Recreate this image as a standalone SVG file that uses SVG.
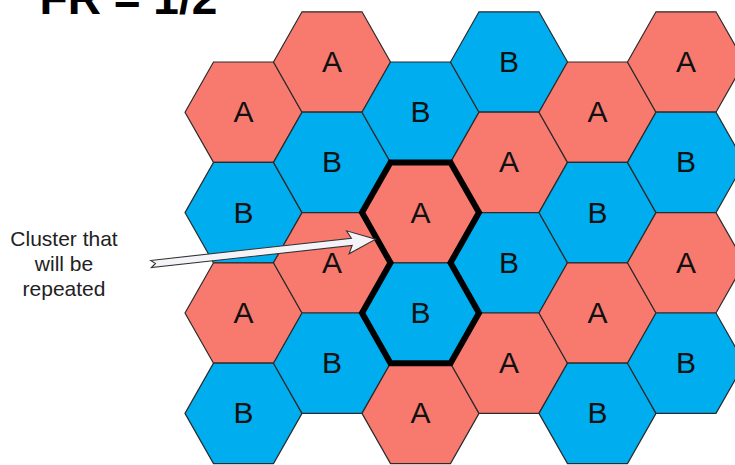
<svg xmlns="http://www.w3.org/2000/svg" xmlns:xlink="http://www.w3.org/1999/xlink" width="735" height="465" viewBox="0 0 735 465">
<style>
.a{fill:#f87a6f;stroke:#2b2b2b;stroke-width:1.2}
.b{fill:#00adee;stroke:#2b2b2b;stroke-width:1.2}
.lbl{font-family:"Liberation Sans",Arial,sans-serif;font-size:30px;fill:#111;text-anchor:middle}
.note{font-family:"Liberation Sans",Arial,sans-serif;font-size:21px;fill:#222;text-anchor:middle}
.title{font-family:"Liberation Sans",Arial,sans-serif;font-size:46px;font-weight:bold;fill:#000}
</style>
<defs>
<polygon id="hex" points="-58.5,0 -30,-50.2 30,-50.2 58.5,0 30,50.2 -30,50.2"/>
</defs>
<rect width="735" height="465" fill="#fff"/>
<text class="title" x="39.6" y="14">FR = 1/2</text>
<g id="cells">
<g id="c1r1"><use href="#hex" class="a" x="243.5" y="112.2"/><text class="lbl" x="243.5" y="122.2">A</text></g>
<g id="c1r2"><use href="#hex" class="b" x="243.5" y="212.6"/><text class="lbl" x="243.5" y="222.6">B</text></g>
<g id="c1r3"><use href="#hex" class="a" x="243.5" y="313"/><text class="lbl" x="243.5" y="323">A</text></g>
<g id="c1r4"><use href="#hex" class="b" x="243.5" y="413.4"/><text class="lbl" x="243.5" y="423.4">B</text></g>
<g id="c2r1"><use href="#hex" class="a" x="332" y="62"/><text class="lbl" x="332" y="72">A</text></g>
<g id="c2r2"><use href="#hex" class="b" x="332" y="162.4"/><text class="lbl" x="332" y="172.4">B</text></g>
<g id="c2r3"><use href="#hex" class="a" x="332" y="262.8"/><text class="lbl" x="332" y="272.8">A</text></g>
<g id="c2r4"><use href="#hex" class="b" x="332" y="363.2"/><text class="lbl" x="332" y="373.2">B</text></g>
<g id="c3r1"><use href="#hex" class="b" x="420.5" y="112.2"/><text class="lbl" x="420.5" y="122.2">B</text></g>
<g id="c3r2"><use href="#hex" class="a" x="420.5" y="212.6"/><text class="lbl" x="420.5" y="222.6">A</text></g>
<g id="c3r3"><use href="#hex" class="b" x="420.5" y="313"/><text class="lbl" x="420.5" y="323">B</text></g>
<g id="c3r4"><use href="#hex" class="a" x="420.5" y="413.4"/><text class="lbl" x="420.5" y="423.4">A</text></g>
<g id="c4r1"><use href="#hex" class="b" x="509" y="62"/><text class="lbl" x="509" y="72">B</text></g>
<g id="c4r2"><use href="#hex" class="a" x="509" y="162.4"/><text class="lbl" x="509" y="172.4">A</text></g>
<g id="c4r3"><use href="#hex" class="b" x="509" y="262.8"/><text class="lbl" x="509" y="272.8">B</text></g>
<g id="c4r4"><use href="#hex" class="a" x="509" y="363.2"/><text class="lbl" x="509" y="373.2">A</text></g>
<g id="c5r1"><use href="#hex" class="a" x="597.5" y="112.2"/><text class="lbl" x="597.5" y="122.2">A</text></g>
<g id="c5r2"><use href="#hex" class="b" x="597.5" y="212.6"/><text class="lbl" x="597.5" y="222.6">B</text></g>
<g id="c5r3"><use href="#hex" class="a" x="597.5" y="313"/><text class="lbl" x="597.5" y="323">A</text></g>
<g id="c5r4"><use href="#hex" class="b" x="597.5" y="413.4"/><text class="lbl" x="597.5" y="423.4">B</text></g>
<g id="c6r1"><use href="#hex" class="a" x="686" y="62"/><text class="lbl" x="686" y="72">A</text></g>
<g id="c6r2"><use href="#hex" class="b" x="686" y="162.4"/><text class="lbl" x="686" y="172.4">B</text></g>
<g id="c6r3"><use href="#hex" class="a" x="686" y="262.8"/><text class="lbl" x="686" y="272.8">A</text></g>
<g id="c6r4"><use href="#hex" class="b" x="686" y="363.2"/><text class="lbl" x="686" y="373.2">B</text></g>
</g>
<g id="cluster">
<path d="M390.5,162.4 L450.5,162.4 L479,212.6 L450.5,262.8 L479,313 L450.5,363.2 L390.5,363.2 L362,313 L390.5,262.8 L362,212.6 Z" fill="none" stroke="#000" stroke-width="6" stroke-linejoin="miter"/>
</g>
<g id="note">
<text class="note" x="64" y="246">Cluster that</text>
<text class="note" x="64" y="271">will be</text>
<text class="note" x="64" y="296">repeated</text>
</g>
<g id="connectors">
<polygon transform="translate(151,264) rotate(-6.3)" points="0,-3.6 202,-3.6 198,-11.5 226,0 198,11.5 202,3.6 0,3.6 4.5,0" fill="#f4f4f8" stroke="#333" stroke-width="1.1" stroke-linejoin="miter"/>
</g>
</svg>
